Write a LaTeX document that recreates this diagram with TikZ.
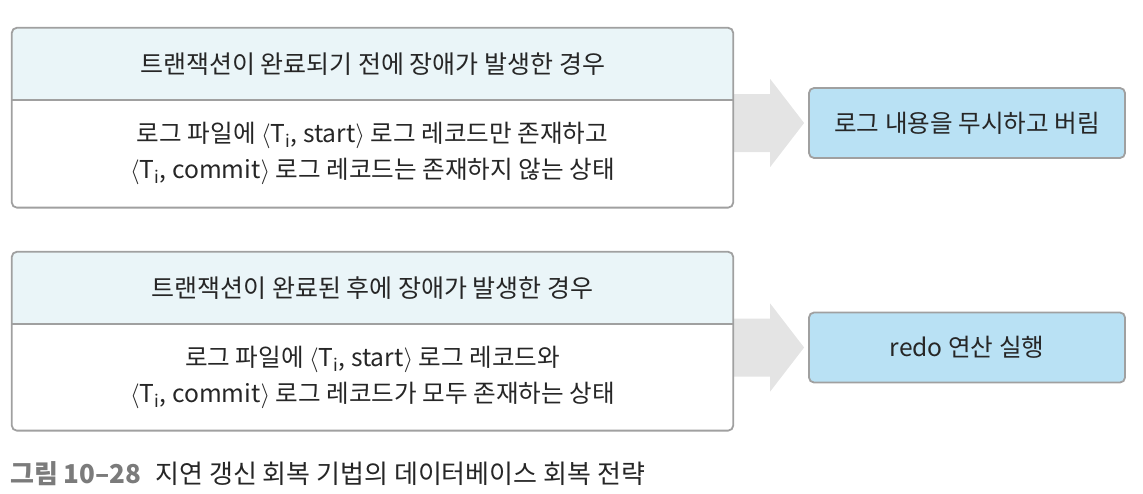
\documentclass[tikz,border=0pt]{standalone}
\usepackage{fontspec}
\setmainfont{Noto Sans CJK KR}
\usepackage{xcolor}
\usetikzlibrary{positioning, calc, backgrounds}

\definecolor{headfill}{HTML}{EAF5F8}
\definecolor{resfill}{HTML}{B9E1F4}
\definecolor{framegray}{HTML}{A0A0A0}
\definecolor{arrowgray}{HTML}{E4E4E4}
\definecolor{capgray}{HTML}{7B7B7B}
\definecolor{textdark}{HTML}{262626}

\tikzset{
    frame/.style={draw=framegray, line width=1.8pt},
    headbox/.style={minimum width=721pt, minimum height=72pt, inner sep=0pt, text=textdark,
        font=\fontsize{25}{29}\selectfont},
    bodybox/.style={minimum width=721pt, inner sep=0pt, text=textdark, align=center,
        font=\fontsize{24.6}{36}\selectfont},
    resbox/.style={frame, fill=resfill, rounded corners=5pt, minimum width=316pt, minimum height=70pt,
        text=textdark, font=\fontsize{24.6}{29}\selectfont},
    bigarrow/.style={fill=arrowgray},
}

\begin{document}
\begin{tikzpicture}[x=1pt, y=-1pt]
    \useasboundingbox (0, 0) rectangle (1143, 493);

    % case 1
    \node[headbox] (head1) at (372.5, 64) {트랜잭션이 완료되기 전에 장애가 발생한 경우};
    \node[bodybox, minimum height=107pt, below=0pt of head1] (body1)
        {로그 파일에 $\langle$T\textsubscript{i}, start$\rangle$ 로그 레코드만 존재하고\\
         $\langle$T\textsubscript{i}, commit$\rangle$ 로그 레코드는 존재하지 않는 상태};

    % case 2
    \node[headbox] (head2) at (372.5, 288) {트랜잭션이 완료된 후에 장애가 발생한 경우};
    \node[bodybox, minimum height=106pt, below=0pt of head2] (body2)
        {로그 파일에 $\langle$T\textsubscript{i}, start$\rangle$ 로그 레코드와\\
         $\langle$T\textsubscript{i}, commit$\rangle$ 로그 레코드가 모두 존재하는 상태};

    \node[resbox] (res1) at (967, 123) {로그 내용을 무시하고 버림};
    \node[resbox] (res2) at (967, 347.5) {redo 연산 실행};

    \begin{scope}[on background layer]
        \foreach \h/\b in {head1/body1, head2/body2} {
            \begin{scope}
                \clip[rounded corners=5pt] (\h.north west) rectangle (\b.south east);
                \fill[headfill] (\h.north west) rectangle (\h.south east);
            \end{scope}
        }
        \foreach \b/\r in {body1/res1, body2/res2} {
            \fill[bigarrow] ($(\b.east |- \r.west)+(0,-29)$) -- ++(37,0) -- ++(0,-15)
                -- ($(\r.west)+(-4,0)$) -- ($(\b.east |- \r.west)+(37,44)$) -- ++(0,-15)
                -- ($(\b.east |- \r.west)+(0,29)$) -- cycle;
        }
    \end{scope}

    \foreach \h/\b in {head1/body1, head2/body2} {
        \draw[frame, rounded corners=5pt] (\h.north west) rectangle (\b.south east);
        \draw[frame] (\h.south west) -- (\h.south east);
    }

    \node[anchor=base west, inner sep=0pt, font=\fontsize{26}{30}\selectfont] (caption) at (10, 483)
        {\textcolor{capgray}{\textbf{그림 10--28}}\hspace{14pt}\textcolor{textdark}{지연 갱신 회복 기법의 데이터베이스 회복 전략}};
\end{tikzpicture}
\end{document}
